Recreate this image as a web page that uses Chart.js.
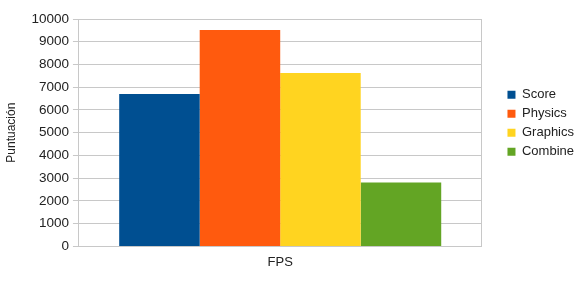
<!DOCTYPE html>
<html>
<head>
<meta charset="utf-8">
<script src="https://cdn.jsdelivr.net/npm/chart.js@4.4.0/dist/chart.umd.min.js"></script>
<style>
  html, body { margin: 0; padding: 0; background: #fff; }
  #wrap { width: 580px; height: 287px; }
</style>
</head>
<body>
<div id="wrap"><canvas id="grafico"></canvas></div>
<script>
// datos
const categorias = ['FPS'];
const series = ['Score', 'Physics', 'Graphics', 'Combine'];
const valores = [6700, 9520, 7630, 2810];
const colores = ['#004f91', '#ff5a0e', '#ffd420', '#63a524'];

const grafico = document.querySelector('#grafico');

const data = {
    labels: categorias,
    datasets: series.map((s, i) => ({
        label: s,
        data: [valores[i]],
        backgroundColor: colores[i],
        borderWidth: 0,
        categoryPercentage: 0.8,
        barPercentage: 1.0
    }))
};

Chart.defaults.font.family = "'Liberation Sans', Arial, sans-serif";
Chart.defaults.color = '#222';

const config = {
    type: 'bar',
    data: data,
    options: {
        responsive: true,
        maintainAspectRatio: false,
        animation: false,
        layout: { padding: { left: 0, right: -4, top: 19, bottom: 9 } },
        scales: {
            x: {
                grid: { color: '#c8c8c8', drawTicks: false, offset: true },
                border: { color: '#c8c8c8' },
                ticks: { font: { size: 13 }, padding: 8, color: '#222' }
            },
            y: {
                min: 0,
                max: 10000,
                ticks: {
                    stepSize: 1000,
                    font: { size: 13.5 },
                    padding: 4,
                    color: '#222',
                    callback: (v) => String(v)
                },
                grid: { color: '#c8c8c8', tickLength: 6 },
                border: { color: '#c8c8c8' },
                title: { display: true, text: 'Puntuación', font: { size: 12 }, color: '#222', padding: { top: 4, bottom: 9 } }
            },
            // eje vacio para separar la leyenda del grafico
            hueco: {
                position: 'right',
                display: true,
                grid: { display: false },
                border: { display: false },
                ticks: { display: false },
                afterFit: (scale) => { scale.width = 20; }
            }
        },
        plugins: {
            legend: {
                position: 'right',
                align: 'start',
                title: { display: true, text: ' ', font: { size: 1 }, padding: { top: 62, bottom: 0 } },
                labels: { boxWidth: 8, boxHeight: 8, padding: 6, font: { size: 13 }, color: '#222' }
            },
            tooltip: { enabled: false }
        }
    }
};

new Chart(grafico, config);
</script>
</body>
</html>
